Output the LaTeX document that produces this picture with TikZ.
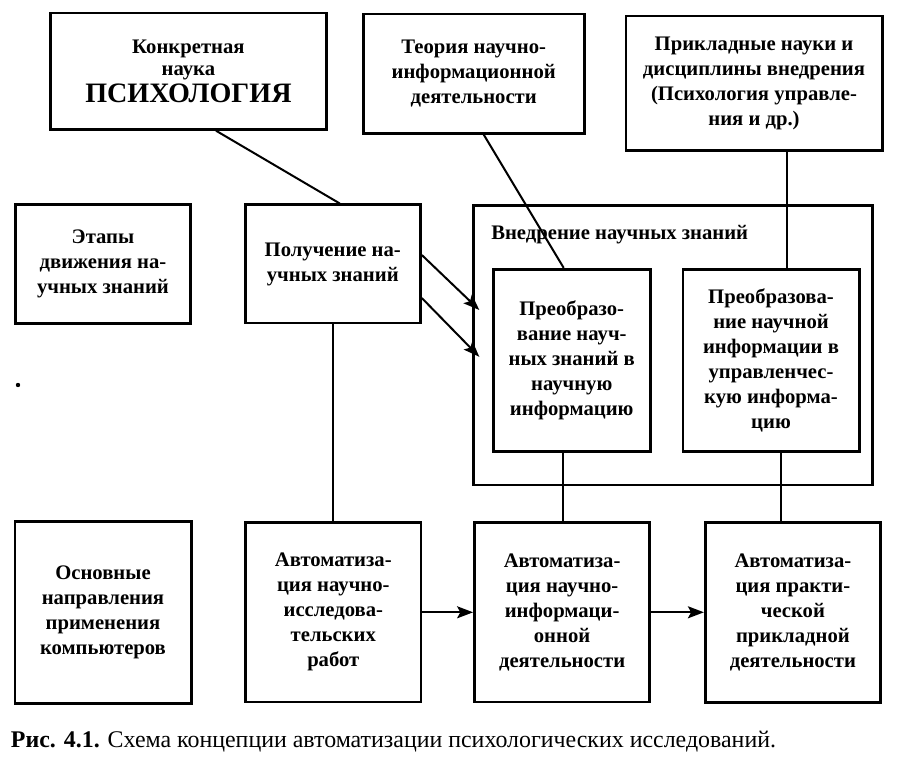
\documentclass[tikz,border=0pt]{standalone}
\usepackage{fontspec}
\setmainfont{Liberation Serif}
\usetikzlibrary{positioning}
\usetikzlibrary{fit}
\usetikzlibrary{arrows.meta}
\tikzset{
  blok/.style={draw,line width=0.7mm,align=center,inner sep=0pt,
    font=\bfseries\fontsize{14.7}{17.8}\selectfont},
}

\begin{document}
\begin{tikzpicture}[line width=0.5mm,>={Stealth[length=4mm,width=3mm,inset=0.8mm]}]
  \useasboundingbox (0,0) rectangle (224.25mm,-191.75mm);
  \node[blok,minimum width=43.8mm,minimum height=29.8mm](etapy) at (25.75mm,-66mm) {Этапы\\движения на-\\учных знаний};
  \node[blok,minimum width=43.8mm,minimum height=29.55mm,right=12.95mm of etapy](poluch) {Получение на-\\учных знаний};
  \node[blok,minimum width=44.05mm,minimum height=45.55mm,below=48.7mm of etapy](osnov) {Основные\\направления\\применения\\компьютеров};
  \node[blok,minimum width=43.8mm,minimum height=44.8mm,right=12.95mm of osnov](avtnir) {Автоматиза-\\ция научно-\\исследова-\\тельских\\работ};
  \node[blok,minimum width=43.8mm,minimum height=44.8mm,right=12.7mm of avtnir](avtnid) {Автоматиза-\\ция научно-\\информаци-\\онной\\деятельности};
  \node[blok,minimum width=43.8mm,minimum height=45.05mm,right=13.2mm of avtnid](avtprak) {Автоматиза-\\ция практи-\\ческой\\прикладной\\деятельности};
  \node[blok,minimum width=39.3mm,minimum height=45.55mm,above=17.1mm of avtnid,xshift=2.4mm](preobr) {Преобразо-\\вание науч-\\ных знаний в\\научную\\информацию};
  \node[blok,minimum width=44.05mm,minimum height=45.55mm,right=7.45mm of preobr](preobrupr) {Преобразова-\\ние научной\\информации в\\управленчес-\\кую информа-\\цию};
  \node[blok,minimum width=69.05mm,minimum height=29.05mm,above=18.2mm of poluch,xshift=-36.1mm](psych) {Конкретная\\[-2pt]наука\\[1.5pt]{\fontsize{20}{20}\selectfont ПСИХОЛОГИЯ}};
  \node[blok,minimum width=55.3mm,minimum height=29.8mm,right=8.45mm of psych,yshift=-0.6mm](teor) {Теория научно-\\информационной\\деятельности};
  \node[blok,minimum width=64.05mm,minimum height=33.55mm,right=9.7mm of teor,yshift=-2.4mm](prikl) {Прикладные науки и\\дисциплины внедрения\\(Психология управле-\\ния и др.)};
  \coordinate (vnA) at ([xshift=-4.5mm,yshift=15.5mm]preobr.north west);
  \coordinate (vnB) at ([xshift=3mm,yshift=-8mm]preobrupr.south east);
  \node[draw,line width=0.7mm,inner sep=0pt,fit=(vnA) (vnB)](vnedr) {};
  \node[anchor=west,inner sep=0pt,font=\bfseries\fontsize{14.7}{17.8}\selectfont](vnedrlbl) at ([xshift=4.5mm,yshift=-7.5mm]vnedr.north west) {Внедрение научных знаний};
  \draw ([xshift=6.9mm]psych.south) -- ([xshift=1.75mm]poluch.north);
  \draw ([xshift=2.5mm]teor.south) -- ([xshift=-2mm]preobr.north);
  \draw ([xshift=4.1mm]preobrupr.north) -- ([xshift=4.1mm]preobrupr.north |- prikl.south);
  \draw (poluch.south) -- (poluch.south |- avtnir.north);
  \draw ([xshift=-2.25mm]preobr.south) -- ([xshift=-2.25mm]preobr.south |- avtnid.north);
  \draw ([xshift=2.4mm]preobrupr.south) -- ([xshift=2.4mm]preobrupr.south |- avtprak.north);
  \draw[->] ([yshift=2.25mm]poluch.east) -- ([xshift=-3.1mm,yshift=12.6mm]preobr.west);
  \draw[->] ([yshift=-8.5mm]poluch.east) -- ([xshift=-3.1mm,yshift=0.9mm]preobr.west);
  \draw[->] (avtnir) -- (avtnid);
  \draw[->] (avtnid) -- (avtprak);
  \fill (4.5mm,-96.25mm) circle (0.55mm);
  \node[anchor=west,inner sep=0pt,font=\fontsize{17}{20}\selectfont](podpis) at (2.5mm,-185.5mm) {\textbf{Рис. 4.1.} Схема концепции автоматизации психологических исследований.};
\end{tikzpicture}
\end{document}
